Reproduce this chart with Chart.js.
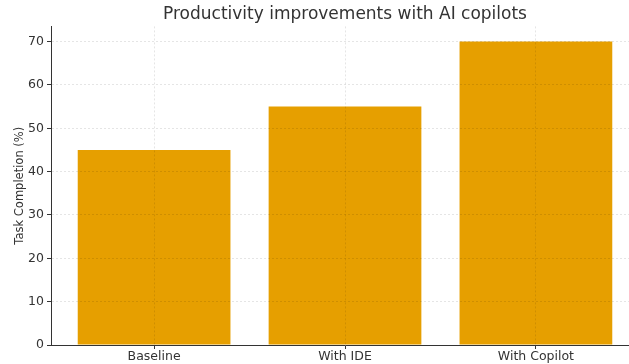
<!DOCTYPE html>
<html>
<head>
<meta charset="utf-8">
<script src="https://cdn.jsdelivr.net/npm/chart.js@4"></script>
<style>
  html, body { margin: 0; padding: 0; background: #fff; overflow: hidden; }
  #wrap { width: 645px; height: 364px; }
</style>
</head>
<body>
<div id="wrap"><canvas id="bar_canvas"></canvas></div>
<script>
const categories = ["Baseline", "With IDE", "With Copilot"];
const completion = [45, 55, 70];
const y_ticks = [0, 10, 20, 30, 40, 50, 60, 70];

const text_colour = "#333333";
const grid_colour = "rgba(0, 0, 0, 0.1)";

const ctx = document.getElementById("bar_canvas").getContext("2d");

const bar_chart = new Chart(ctx, {
  type: "bar",
  data: {
    datasets: [{
      label: "Task Completion (%)",
      data: categories.map((c, i) => ({ x: i, y: completion[i] })),
      backgroundColor: "#E69F00",
      borderWidth: 0,
      barPercentage: 1,
      categoryPercentage: 0.8
    }]
  },
  options: {
    responsive: true,
    maintainAspectRatio: false,
    animation: false,
    layout: { padding: { right: 6 } },
    plugins: {
      legend: { display: false },
      tooltip: { enabled: false },
      title: {
        display: true,
        fullSize: false,
        text: "Productivity improvements with AI copilots",
        color: text_colour,
        font: { family: "DejaVu Sans", size: 17, weight: "normal" },
        padding: { top: 4, bottom: 2 }
      }
    },
    scales: {
      x: {
        type: "linear",
        min: -0.54,
        max: 2.54,
        offset: false,
        afterBuildTicks: scale => {
          scale.ticks = categories.map((c, i) => ({ value: i }));
        },
        afterFit: scale => { scale.height = 19; },
        ticks: {
          color: text_colour,
          font: { family: "DejaVu Sans", size: 12.5 },
          padding: 0,
          maxRotation: 0,
          callback: value => categories[value]
        },
        grid: {
          z: 1,
          offset: false,
          color: grid_colour,
          tickColor: text_colour,
          tickBorderDash: [],
          tickLength: 4
        },
        border: { display: true, z: 2, color: text_colour, width: 1, dash: [2, 2] }
      },
      y: {
        min: 0,
        max: 73.5,
        afterBuildTicks: scale => {
          scale.ticks = y_ticks.map(v => ({ value: v }));
        },
        afterFit: scale => { scale.width = 51; },
        title: {
          display: true,
          text: "Task Completion (%)",
          color: text_colour,
          font: { family: "DejaVu Sans", size: 11.5 },
          padding: { top: 13, bottom: 4 }
        },
        ticks: {
          color: text_colour,
          font: { family: "DejaVu Sans", size: 12.5 },
          padding: 3
        },
        grid: {
          z: 1,
          color: grid_colour,
          tickColor: text_colour,
          tickBorderDash: [],
          tickLength: 4
        },
        border: { display: true, z: 2, color: text_colour, width: 1, dash: [2, 2] }
      }
    }
  }
});
</script>
</body>
</html>
